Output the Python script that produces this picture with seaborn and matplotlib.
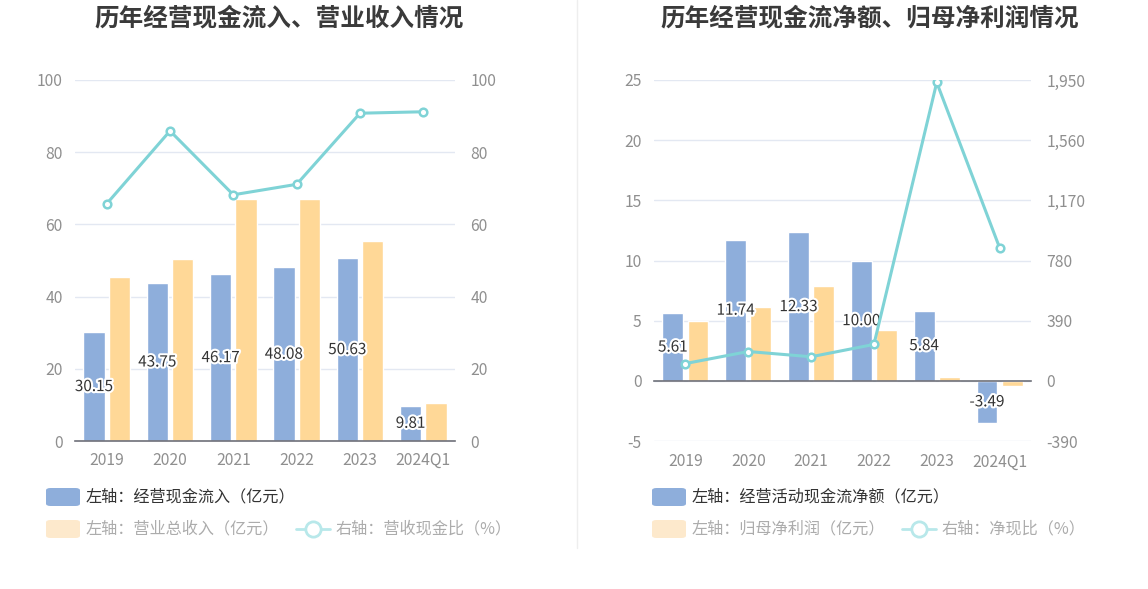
import numpy as np
import pandas as pd
import matplotlib
matplotlib.use("Agg")
import matplotlib.pyplot as plt
import matplotlib.patheffects as pe
from matplotlib.patches import FancyBboxPatch
from matplotlib.lines import Line2D
import seaborn as sns

sns.set_theme(style="white")
plt.rcParams['font.family'] = ['Noto Sans CJK SC', 'DejaVu Sans']
plt.rcParams['axes.unicode_minus'] = False

# ---------------- data ----------------
years = ["2019", "2020", "2021", "2022", "2023", "2024Q1"]

# left chart
cash_inflow = [30.15, 43.75, 46.17, 48.08, 50.63, 9.81]       # 经营现金流入（亿元）
revenue = [45.4, 50.5, 67.1, 67.1, 55.4, 10.5]                 # 营业总收入（亿元）
cash_rev_ratio = [65.7, 85.9, 68.2, 71.1, 90.8, 91.2]          # 营收现金比（%）

# right chart
op_cash_net = [5.61, 11.74, 12.33, 10.00, 5.84, -3.49]          # 经营活动现金流净额（亿元）
net_profit = [4.96, 6.13, 7.85, 4.21, 0.29, -0.41]             # 归母净利润（亿元）
net_cash_ratio = [112, 190, 156, 236, 1934, 863]                # 净现比（%）

left_ticks = [0, 20, 40, 60, 80, 100]
right_left_ticks = [-5, 0, 5, 10, 15, 20, 25]
right_right_ticks = [-390, 0, 390, 780, 1170, 1560, 1950]

# ---------------- style ----------------
BLUE = "#8eaedb"
ORANGE = "#ffd897"
ORANGE_FADED = "#fde9cc"
LINE = "#7fd3d6"
LINE_FADED = "#b8e8ea"
GRID = "#e3e8f2"
AXIS = "#6e7079"
TICK_TXT = "#8f8f8f"
TITLE_TXT = "#3a3a3a"
TICK_FS = 11.3

W, H = 1148, 589
fig = plt.figure(figsize=(W / 100, H / 100), dpi=100)


def fx(px):
    return px / W


def fy(py):
    return 1 - py / H


def make_panel(x0, x1, title, title_cx, bar_a, bar_b, name_a, name_b, ratio,
               ylim, yticks, y2lim, y2ticks, y2fmt, zero_axis):
    ax = fig.add_axes([fx(x0), fy(441), fx(x1 - x0), (441 - 80) / H])
    df = pd.DataFrame({
        "year": years * 2,
        "series": [name_a] * len(years) + [name_b] * len(years),
        "value": list(bar_a) + list(bar_b),
    })
    sns.barplot(data=df, x="year", y="value", hue="series",
                palette={name_a: BLUE, name_b: ORANGE}, saturation=1,
                width=0.8, gap=0.17, legend=False, ax=ax, zorder=3)
    ax.set_xlim(-0.5, len(years) - 0.5)
    ax.set_ylim(*ylim)
    ax.set_yticks(yticks)
    ax.set_xlabel("")
    ax.set_ylabel("")
    ax.grid(axis="y", color=GRID, linewidth=1, zorder=0)
    ax.set_axisbelow(True)
    for s in ["left", "right", "top"]:
        ax.spines[s].set_visible(False)
    ax.spines["bottom"].set_color(AXIS)
    ax.spines["bottom"].set_linewidth(1.2)
    ax.spines["bottom"].set_zorder(4)
    ax.tick_params(axis="y", length=0, labelsize=TICK_FS, labelcolor=TICK_TXT, pad=9)
    ax.tick_params(axis="x", length=5, width=1, color=AXIS, direction="out",
                   labelsize=TICK_FS, labelcolor=TICK_TXT, pad=3)
    if zero_axis:
        ax.spines["bottom"].set_position(("data", 0))
        ax.tick_params(axis="x", labelbottom=False)
        sec = ax.secondary_xaxis("bottom")
        sec.set_xticks(range(len(years)), years)
        sec.spines["bottom"].set_visible(False)
        sec.tick_params(axis="x", length=0, labelsize=TICK_FS, labelcolor=TICK_TXT, pad=9)

    # value labels on the first series
    texts = ax.bar_label(ax.containers[0], fmt="{:.2f}", label_type="center",
                         fontsize=11, color="#333333")
    for t in texts:
        t.set_path_effects([pe.withStroke(linewidth=3, foreground="white")])

    ax2 = ax.twinx()
    sns.lineplot(x=years, y=ratio, ax=ax2, color=LINE, linewidth=2.2,
                 marker="o", markersize=5.5, markerfacecolor="white",
                 markeredgecolor=LINE, markeredgewidth=1.8, sort=False)
    ax2.set_ylim(*y2lim)
    ax2.set_yticks(y2ticks)
    ax2.set_yticklabels([y2fmt(v) for v in y2ticks])
    ax2.set_ylabel("")
    for s in ["left", "right", "top", "bottom"]:
        ax2.spines[s].set_visible(False)
    ax2.tick_params(axis="y", length=0, labelsize=TICK_FS, labelcolor=TICK_TXT, pad=11)
    ax2.grid(False)

    fig.text(fx(title_cx), fy(18), title, ha="center", va="center",
             fontsize=17.7, fontweight="bold", color=TITLE_TXT)
    return ax, ax2


make_panel(75, 455, "历年经营现金流入、营业收入情况", 279.5,
           cash_inflow, revenue, "经营现金流入", "营业总收入", cash_rev_ratio,
           (0, 100), left_ticks, (0, 100), left_ticks, lambda v: f"{v:d}", False)

make_panel(654, 1031, "历年经营现金流净额、归母净利润情况", 870,
           op_cash_net, net_profit, "经营活动现金流净额", "归母净利润", net_cash_ratio,
           (-5, 25), right_left_ticks, (-390, 1950), right_right_ticks,
           lambda v: f"{v:,d}", True)

# separator
fig.add_artist(Line2D([fx(577), fx(577)], [fy(0), fy(548)], color="#eeeeee", linewidth=1))


def legend_patch(x, y, color):
    p = FancyBboxPatch((fx(x), fy(y + 9)), fx(34), 18 / H,
                       boxstyle="round,pad=0,rounding_size=0.004",
                       transform=fig.transFigure, facecolor=color, edgecolor="none")
    fig.add_artist(p)


def legend_line(x, y):
    fig.add_artist(Line2D([fx(x), fx(x + 34)], [fy(y), fy(y)], color=LINE_FADED, linewidth=2))
    fig.add_artist(Line2D([fx(x + 17)], [fy(y)], marker="o", markersize=11,
                          markerfacecolor="white", markeredgecolor=LINE_FADED,
                          markeredgewidth=2))


LEG_DARK = "#333333"
LEG_LIGHT = "#acacac"
LEG_FS = 11.6

# left legend
legend_patch(46, 497, BLUE)
fig.text(fx(86), fy(497), "左轴：经营现金流入（亿元）", va="center", ha="left",
         fontsize=LEG_FS, color=LEG_DARK)
legend_patch(46, 529, ORANGE_FADED)
fig.text(fx(86), fy(529), "左轴：营业总收入（亿元）", va="center", ha="left",
         fontsize=LEG_FS, color=LEG_LIGHT)
legend_line(296, 529)
fig.text(fx(336), fy(529), "右轴：营收现金比（%）", va="center", ha="left",
         fontsize=LEG_FS, color=LEG_LIGHT)

# right legend
legend_patch(652, 497, BLUE)
fig.text(fx(692), fy(497), "左轴：经营活动现金流净额（亿元）", va="center", ha="left",
         fontsize=LEG_FS, color=LEG_DARK)
legend_patch(652, 529, ORANGE_FADED)
fig.text(fx(692), fy(529), "左轴：归母净利润（亿元）", va="center", ha="left",
         fontsize=LEG_FS, color=LEG_LIGHT)
legend_line(902, 529)
fig.text(fx(942), fy(529), "右轴：净现比（%）", va="center", ha="left",
         fontsize=LEG_FS, color=LEG_LIGHT)

fig.savefig("out.png", dpi=100, facecolor="white")
